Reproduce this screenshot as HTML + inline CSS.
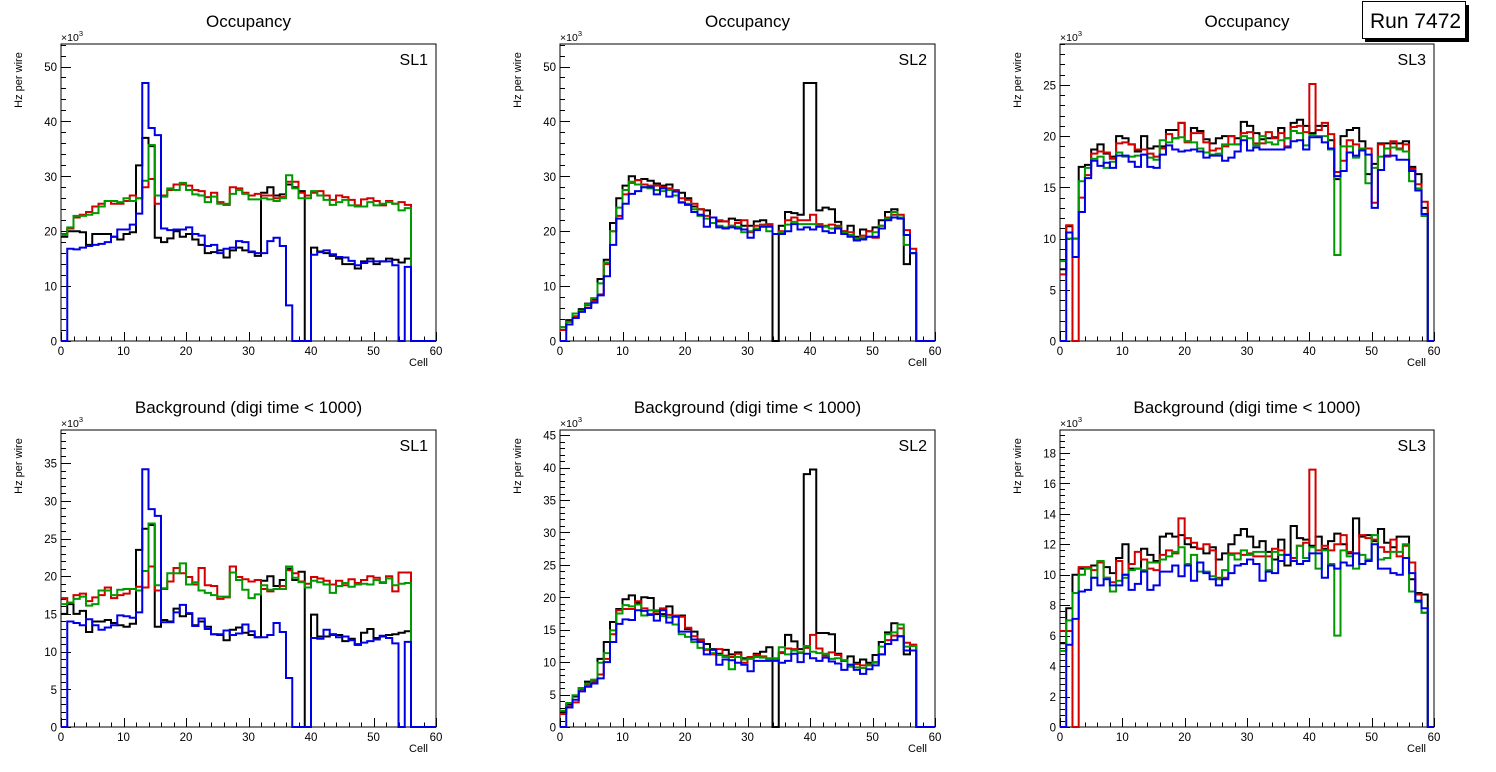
<!DOCTYPE html>
<html><head><meta charset="utf-8"><style>
body{margin:0;background:#fff;}
svg{display:block;font-family:"Liberation Sans",Arial,sans-serif;}
</style></head><body>
<svg id="c" width="1496" height="772" viewBox="0 0 1496 772"></svg>
<script>
// ---------- data (units: 10^3 Hz per wire), 60 cells ----------
const occSL1_black=[19,20,20,19.8,17.5,19.5,19.5,19.5,19,18.5,19.5,19.8,32,37,35.5,18.8,18,18.7,20,19,19.5,18.5,17.5,16,16.2,16.5,15.2,16.5,17,16.5,16.2,15.5,27,28,26.5,26.7,28.5,28,27.3,0,17,16.3,16,15.5,15,14,14,13.2,14.5,15,14,14.5,15,14.8,14.3,15,0,0,0,0];
const occSL1_red=[19.5,20.5,22.5,23,23.5,24.5,25,25.5,25,25,25.5,26.5,26,28,29.5,25,26.5,27.5,28.5,28.5,28.3,27.5,27.3,26.2,27,25.3,24.8,28,27.8,27,26.5,26.8,26.5,26.5,26,26.2,29,29,27,26.5,27,27.3,26.5,25.7,26.5,26.2,25.7,24.7,25.8,26,25.5,24.7,25.5,25,25.3,24.8,0,0,0,0];
const occSL1_green=[19.3,20.7,22.8,22.8,23,23.3,24.5,25.5,25.5,25.3,26,25.5,26,29.2,35.7,26.5,26.3,27.8,27.5,28.8,27.5,26.7,26.5,25.3,26.3,25,25,26.8,27.5,26.8,25.8,25.8,26,25.8,25.5,26,30.2,27.8,26,26,27.3,26.5,25.7,24.8,25.3,25.7,24.7,24.5,24.5,25.3,24.7,25,25.3,25,23.8,24.2,0,0,0,0];
const occSL1_blue=[0,16.8,16.7,17,17.3,17.5,17.7,18,19,20.3,20.3,21.2,23.2,47,38.8,37.5,20.5,20.2,20.3,20.3,20.7,19.5,19.2,17.3,17.5,16,16.8,17,18.2,18,16.3,16,16,18.2,18.8,17.3,6.5,0,0,0,15.7,16.2,16.5,15.8,15.3,15.2,14.6,13.8,14.2,14.5,14.5,14.5,14.5,13.8,0,13.5,0,0,0,0];

const occSL2_black=[2.5,3.8,5,5.8,6.8,7.5,11.3,14.8,21.5,26,28.3,30,29.3,29.5,29.2,28.7,28.3,28.5,27.3,27,26,24.5,24,23.8,22.5,21.8,21.8,22.3,22,21,21,21.8,22,21.2,0,21,23.5,23.3,23,47,47,23.8,24.3,24,21.7,20,21,19,20.3,20,20.7,22,23.5,24,22.5,14,16,0,0,0];
const occSL2_red=[2,3.5,4.5,5.5,6.5,7.3,8.5,14,20,22.8,26.7,28.8,29.3,28.5,28.3,28.3,28,27.8,27.5,26,25.7,25,24,22.8,22.5,22,21.8,21,21.5,22,19.8,21,21.2,21.3,19.5,20,22,22.5,22,22,23,21.3,21,21.2,21,20,19.8,18.6,19.2,20,18.8,21,22.5,23,23,20.2,16.8,0,0,0];
const occSL2_green=[2.5,3.5,5,5.5,6.7,7.8,10.5,14.3,20,24.3,27.5,29,28.5,28,27.8,27.5,27.3,27.5,26.5,25.3,25,24,22.8,22.3,21.5,21,20.7,21,20.8,19.8,20,20.5,21,20,19.5,19.8,21.2,21.7,21.3,21.3,21.3,21,20.8,20.5,20.7,19.7,19.3,18.7,18.8,19,19.8,21,22.3,23.5,22.5,17.5,16,0,0,0];
const occSL2_blue=[0,3,4.2,5.3,6,7,8.3,11.8,17.5,22.3,25,26.8,27.3,28,28,26.7,27.8,26.3,27.2,25.2,24.8,23.5,23,20.8,22.5,20.7,20.5,20.7,20.5,20.3,18.8,20.2,20.8,20.8,19.5,19.5,20,21.3,20.3,20.7,20.3,20.8,20,19.7,20.5,19.5,19,18.3,18.5,19,19,20.5,22,22.5,22.3,19.3,16,0,0,0];

const occSL3_black=[7,11.2,10,17,17.2,18.7,19.2,18.3,18,20,19.8,19.2,18.5,20,18.8,19,19,20.6,20.6,21.3,19.5,20.8,20.5,19.7,19.3,19.8,20,20,19.8,21.4,21,20.3,19.7,19.8,19.9,20.8,19.8,21.3,21.6,21,20.3,21,21,19.6,15.8,20,20.6,20.8,19.5,16.3,17.3,19.3,19.3,19.3,19.3,19.5,17,16.3,13,0];
const occSL3_red=[6.5,11.3,0,14,16.2,18.3,18.5,18.4,17.8,19.3,19.4,19.2,18.7,18.7,18.3,18,18.8,20.2,19.8,21.3,19.4,20.3,20.3,19.4,18.6,18.8,19,20,19.2,20.3,20.4,19.3,19.3,20.4,19.8,20.3,19,20.9,21,20.4,25.1,20.6,21.3,20.2,16.5,17.6,19.6,19.2,18.8,18.8,13.5,19.2,18,19.5,18.8,19.2,16.8,15.3,13.6,0];
const occSL3_green=[7.8,10,10,15.6,16.9,17.8,18,16.9,17.5,18.4,18,18,18.1,18.2,17.9,17.7,19.6,19.4,19.8,19.9,19.5,19.4,18.8,18.4,18.2,18.3,19.2,19.2,19.2,20,19.8,19.1,20,19.4,19.2,19.6,19.8,20.5,20.3,19.1,20.1,20,20,18.7,8.4,19,19,17.9,18.8,15.4,16.9,18,18.8,18.9,18.7,18.5,15.6,14.9,12.2,0];
const occSL3_blue=[0,10.6,8.2,12.6,15.9,17.6,17.1,17.4,16.9,18.1,18.1,17.5,17,18.2,17,16.9,18.2,19.1,18.7,18.5,18.6,18.7,18.5,17.9,18.1,18.1,17.6,17.9,18.5,19.6,18.6,18.9,18.7,18.7,18.7,18.7,18.9,19.5,19.6,18.7,19.9,19.9,19.4,18.8,16.1,16.6,18.4,18.1,18.6,18.2,13,16.7,18.1,18.1,17.7,17.7,16.6,14.7,12.4,0];

const bkgSL1_black=[15,16.3,15,15.4,12.6,14,14,14.2,13.8,13.5,13.3,13.7,23.5,26.3,26.8,13.3,14.2,14,15.7,14.7,15,13.5,14,13.3,12.3,12.2,11.5,12.9,13.2,12.5,12.2,11.9,19.4,20,18.7,19.5,21,19.5,20.6,0,14.9,12,12,12.3,12.2,11.4,11.7,10.9,12.5,13,11.8,12,12.2,12.3,12.5,12.7,0,0,0,0];
const bkgSL1_red=[17.1,16.5,17.5,17.7,16.7,17.2,17.5,18.5,17.1,17.5,17.7,18.3,18.6,18.5,21.3,18.1,18.3,19.3,21.1,20.4,19.9,18.9,21.1,18.8,18.7,17,17.2,21.3,19.9,19.6,19.3,19.5,18.3,18,18.3,18.7,20.8,20.4,19.3,19,19.9,19.7,19.4,18.9,19.4,18.8,19.6,19.1,19.5,20,19.8,19.2,20,18,20.5,20.5,0,0,0,0];
const bkgSL1_green=[16.3,16.5,17,17.3,16.1,16.3,18.1,18.1,17.5,18.2,18.3,18.3,18.1,20.7,27,18.8,18.4,20.4,20.4,21.7,18.9,19.2,18.1,17.8,17.5,17.3,17.3,20.5,19.5,18.2,17.1,17.6,18.8,18.2,18.3,18.3,21.3,19.8,19.2,18.5,19.4,19.2,18.9,17.8,18.7,19.1,18.6,18.9,19,18.9,19.5,19.1,19.7,18.8,19,19.1,0,0,0,0];
const bkgSL1_blue=[0,14,13.8,13.5,14.3,13.5,12.9,13.2,13.5,14.8,14.7,14.5,15.2,34.2,28.9,28,13.9,13.9,15.2,16.2,15.1,13.4,14.4,13,12.3,12.3,12.8,12.2,12.4,13.6,12.7,11.9,11.9,12.2,13.8,12.6,6.5,0,0,0,11.8,11.7,12.9,12.2,11.9,12,11.5,11,11.2,11.4,11.6,12.1,11.8,11.1,0,11.3,0,0,0,0];

const bkgSL2_black=[2.3,3.5,4.7,6,7,7.2,10.5,13.1,16.2,18.2,19.7,20.3,19.2,20,19.9,17.4,17.4,18.6,17.2,17.2,15.1,14.7,13.5,12.8,12,11.3,11.9,11.2,11.5,10.6,10.7,11.3,11.6,12.3,0,11.5,14.2,13.2,12,39,39.7,14.5,14.5,14.3,11.3,10.2,10.9,9.9,10.4,9.9,11.1,13.1,14.6,16,14,11.2,12.5,0,0,0];
const bkgSL2_red=[2,3.2,3.8,5.8,6.5,7,8.1,10.5,14.3,18,18.2,18.2,19.4,18.3,17.4,17.8,18.3,17.3,17.2,17,15.3,14,13.4,11.9,11.2,12,11,10.8,11.3,9.9,10.8,11.1,10.9,10.5,10.5,11.4,12.1,12,11.5,12.2,14.2,12.1,11,11.5,11.1,10.3,9.6,9.7,9.5,9.6,10,11.2,13.4,14.1,15.2,13,12.7,0,0,0];
const bkgSL2_green=[2.5,3.7,4.9,6,6.7,7.3,9.9,11.4,14.9,17.5,18.8,18.6,18.9,17.2,18,18,17.1,16.9,15.8,14.3,13.9,13.1,12.2,12,11.4,11.1,10.8,8.9,10.8,10.4,10.5,10.8,10.7,10.6,10.6,12.3,11.2,11.8,11.4,12.5,11.6,11.4,11.3,10.5,10.6,10.3,9.3,9.2,9.1,9.5,9.9,12.4,14.3,14.6,15.8,12.4,12.5,0,0,0];
const bkgSL2_blue=[0,3,4.2,5.5,6.2,6.7,7.5,10,13.1,15.9,16.6,16.5,18,17.9,17.3,16.4,18,16.1,17,14.7,14.7,13.5,13.1,11.2,11.9,9.6,10.4,10.3,9.9,9.6,8.6,10.2,10.2,10.2,10.2,9.9,10.2,11.3,10,11.3,10.6,10.2,10.7,10.1,9.8,8.8,9.6,8.8,8.2,8.9,9.5,11.2,12.8,13.4,14,11.8,11.8,0,0,0];

const bkgSL3_black=[5.5,7.8,10,10.4,10.4,10.6,10.8,10.5,10.1,11.1,12,10.4,10.4,11.7,11.3,10.9,12.5,12.7,12.5,12.6,12,11.8,11.7,11.4,11.8,11,11.4,12,12.6,13,12.5,11.8,12.2,11.5,11,12.3,10.6,13.2,12.4,12.3,11.9,12.5,11.7,12.2,12.7,12,11.4,13.7,12.5,12.6,12.2,13,12.1,11.8,12.5,12.5,9.7,8.8,8.7,0];
const bkgSL3_red=[6.3,6.3,0,10.5,10.5,10.3,10.8,9.8,9.5,10.9,10,10.7,11.5,11,10.4,10.3,11.3,11.6,11.4,13.7,12.4,12.1,11.7,12,11.6,9.8,9.8,11.4,11.4,11.3,11.4,11.2,11.2,11.2,11.7,11.6,11.3,11.1,11.9,12.1,16.9,11.6,11.9,11.6,12,12.6,11.5,11.4,12.6,12.4,12.3,11.8,11.5,12.3,11.2,11.9,10.8,8.7,7.5,0];
const bkgSL3_green=[5,7,8.8,10,10.4,9.8,10.9,9.8,8.9,9.6,9.8,10.3,10.4,10.3,10.8,10.8,11,11.2,11.5,11.8,10.7,11.3,10.2,10.2,9.9,9.7,10.3,11.3,11,11.6,11.3,11.5,11.5,10.3,11.5,11.3,11.3,10.9,11.9,11.1,11.8,10.4,11.6,10.7,6,11.6,11.2,10.4,11.3,11,12.6,11,11.1,11.5,11.5,12,8.9,8.2,7.5,0];
const bkgSL3_blue=[0,5.4,7.1,8.9,9,9.8,9.3,9.7,9.3,9.3,10,9,9.4,10.2,9,9.3,10.2,10.2,10.6,9.9,10.6,9.6,10.8,10.1,9.7,9.3,9.7,10.1,10.6,10.7,11,10.7,9.6,10.2,10.1,10.9,11.3,10.9,10.7,10.9,11.4,11.4,9.8,10.6,10.4,10.8,10.6,11.4,10.7,10.9,12,10.4,10.4,10.1,10,11.1,10.1,8.3,7.8,0];

const xTicks=[0,10,20,30,40,50,60];
const panelTitles=["Occupancy","Occupancy","Occupancy","Background (digi time < 1000)","Background (digi time < 1000)","Background (digi time < 1000)"];
const slLabels=["SL1","SL2","SL3","SL1","SL2","SL3"];
const yMax=[54.1,54.1,29,39.4,45.8,19.5];
const yMajor=[10,10,5,5,5,2];
const yMinorN=[5,5,5,5,5,5];

const panelSeries=[
 [occSL1_black,occSL1_red,occSL1_green,occSL1_blue],
 [occSL2_black,occSL2_red,occSL2_green,occSL2_blue],
 [occSL3_black,occSL3_red,occSL3_green,occSL3_blue],
 [bkgSL1_black,bkgSL1_red,bkgSL1_green,bkgSL1_blue],
 [bkgSL2_black,bkgSL2_red,bkgSL2_green,bkgSL2_blue],
 [bkgSL3_black,bkgSL3_red,bkgSL3_green,bkgSL3_blue]];
const seriesNames=["black","red","green","blue"];
const seriesColors=["#000000","#d40000","#009a00","#0000e6"];

const NS="http://www.w3.org/2000/svg";
const svg=document.getElementById('c');
function mk(tag,attrs,parent){const e=document.createElementNS(NS,tag);for(const k in attrs)e.setAttribute(k,attrs[k]);(parent||svg).appendChild(e);return e;}

const frameL=[61,560,1060], frameR=[436,935,1434], frameT=[44,430], frameB=[341,727];

for(let p=0;p<6;p++){
  const col=p%3,row=Math.floor(p/3);
  const L=frameL[col],R=frameR[col],T=frameT[row],B=frameB[row];
  const g=mk('g',{});
  
  
  const xs=v=>L+(R-L)*v/60;
  const ys=v=>B-(B-T)*v/yMax[p];
  // title
  const t=mk('text',{x:(L+R)/2,y:row===0?27:413,'font-size':17,'text-anchor':'middle',fill:'#000'},g);
  t.textContent=panelTitles[p];
  
  
  // frame
  const fr=mk('rect',{x:L,y:T,width:R-L,height:B-T,fill:'none',stroke:'#000','stroke-width':1},g);
  
  
  // x ticks
  for(let v=0;v<=60;v+=2){
    const major=v%10===0;const x=Math.round(xs(v))+0.5;
    mk('line',{x1:x,x2:x,y1:B,y2:B-(major?9:4.5),stroke:'#000','stroke-width':1},g);
  }
  xTicks.forEach(v=>{
    const tx=mk('text',{x:xs(v),y:B+14,'font-size':11.5,'text-anchor':'middle'},g);
    tx.textContent=v;
    
    
  });
  const xt=mk('text',{x:R-8,y:B+25,'font-size':11,'text-anchor':'end'},g);
  xt.textContent='Cell';
  
  
  // y ticks
  const mj=yMajor[p],mn=mj/yMinorN[p];
  for(let i=0;i*mn<=yMax[p]+1e-6;i++){
    const v=i*mn;const major=i%yMinorN[p]===0;const y=Math.round(ys(v))+0.5;
    mk('line',{x1:L,x2:L+(major?10:5),y1:y,y2:y,stroke:'#000','stroke-width':1},g);
    if(major){
      const ty=mk('text',{x:L-4,y:ys(v)+4.5,'font-size':11.5,'text-anchor':'end'},g);
      ty.textContent=v;
      
      
    }
  }
  const ex=mk('text',{x:L,y:T-3,'font-size':10.5},g);
  ex.innerHTML='×10<tspan font-size="7.5" dy="-5">3</tspan>';
  
  
  const yx=L-39, yy=T+36;
  const yt=mk('text',{x:yx,y:yy,'font-size':11,'text-anchor':'middle',transform:`rotate(-90 ${yx} ${yy})`},g);
  yt.textContent='Hz per wire';
  
  
  const sl=mk('text',{x:R-8,y:T+21,'font-size':16,'text-anchor':'end'},g);
  sl.textContent=slLabels[p];
  
  
  // histograms
  panelSeries[p].forEach((arr,si)=>{
    let d=`M${xs(0)},${ys(arr[0])}`;
    for(let i=0;i<arr.length;i++){
      d+=`H${xs(i+1)}`;
      const nxt=i+1<arr.length?arr[i+1]:0;
      d+=`V${ys(nxt)}`;
    }
    const path=mk('path',{d:d,fill:'none',stroke:seriesColors[si],'stroke-width':2,'stroke-linejoin':'miter'},g);
    
    
  });
}
// run label box
const rg=mk('g',{});


mk('rect',{x:1365,y:5,width:104,height:37,fill:'#000'},rg);
mk('rect',{x:1362.5,y:1.5,width:103,height:37,fill:'#fff',stroke:'#000','stroke-width':1},rg);
const rt=mk('text',{x:1370,y:28,'font-size':21},rg);
rt.textContent='Run 7472';


</script>
</body></html>
